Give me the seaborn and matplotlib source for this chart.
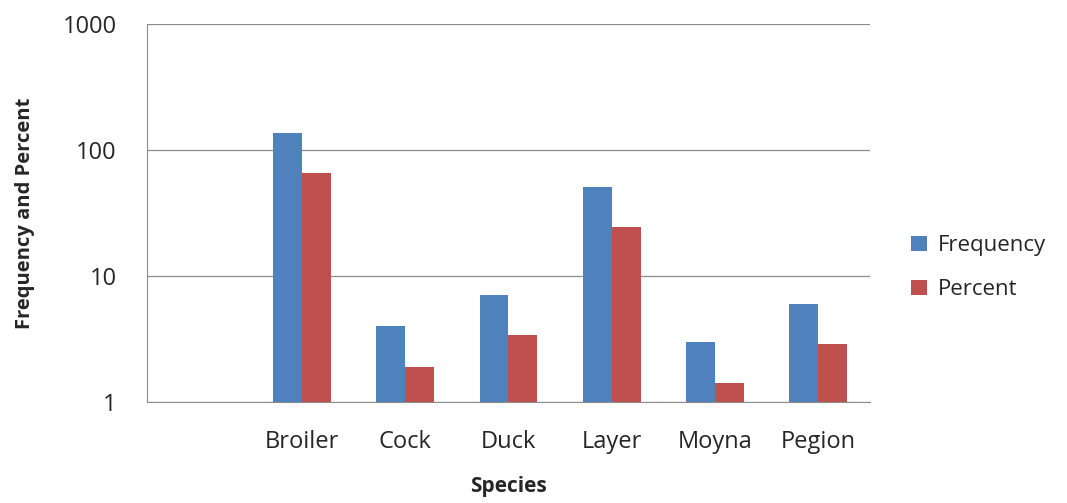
import pandas as pd
import seaborn as sns
from matplotlib import pyplot as plt

species = ['', 'Broiler', 'Cock', 'Duck', 'Layer', 'Moyna', 'Pegion']
frequency = [137, 4, 7, 51, 3, 6]
percent = [65.9, 1.9, 3.4, 24.5, 1.4, 2.9]

df = pd.DataFrame({
    'Species': species[1:] * 2,
    'value': frequency + percent,
    'series': ['Frequency'] * 6 + ['Percent'] * 6,
})

sns.set_style('white')
plt.rcParams['font.family'] = ['Open Sans', 'DejaVu Sans']

fig = plt.figure(figsize=(10.67, 5.03), dpi=100)
ax = fig.add_axes([0.138, 0.201, 0.677, 0.751])
sns.barplot(data=df, x='Species', y='value', hue='series', order=species,
            palette=['#4F81BD', '#C0504D'], width=0.56, saturation=1,
            linewidth=0, ax=ax, legend=True)
ax.set_yscale('log')
ax.set_ylim(1, 1000)
ax.set_xlim(-0.5, 6.5)
ax.set_yticks([1, 10, 100, 1000])
ax.set_yticklabels(['1', '10', '100', '1000'])
ax.minorticks_off()
ax.yaxis.grid(True, color='#8c8c8c', linewidth=0.9)
ax.set_axisbelow(True)
for s in ['top', 'right']:
    ax.spines[s].set_visible(False)
for s in ['left', 'bottom']:
    ax.spines[s].set_color('#8c8c8c')
ax.tick_params(axis='y', length=8, color='#8c8c8c', labelsize=17, pad=14)
ax.tick_params(axis='x', length=0, labelsize=17, pad=20)
ax.set_xlabel('Species', fontsize=15, fontweight='bold', labelpad=16)
ax.set_ylabel('Frequency and Percent', fontsize=14.5, fontweight='bold', labelpad=20)
ax.legend(loc='center left', bbox_to_anchor=(1.03, 0.355), frameon=False,
          fontsize=16, handlelength=0.7, handleheight=0.7, labelspacing=1.05,
          handletextpad=0.5)
fig.savefig('out.png', dpi=100)
